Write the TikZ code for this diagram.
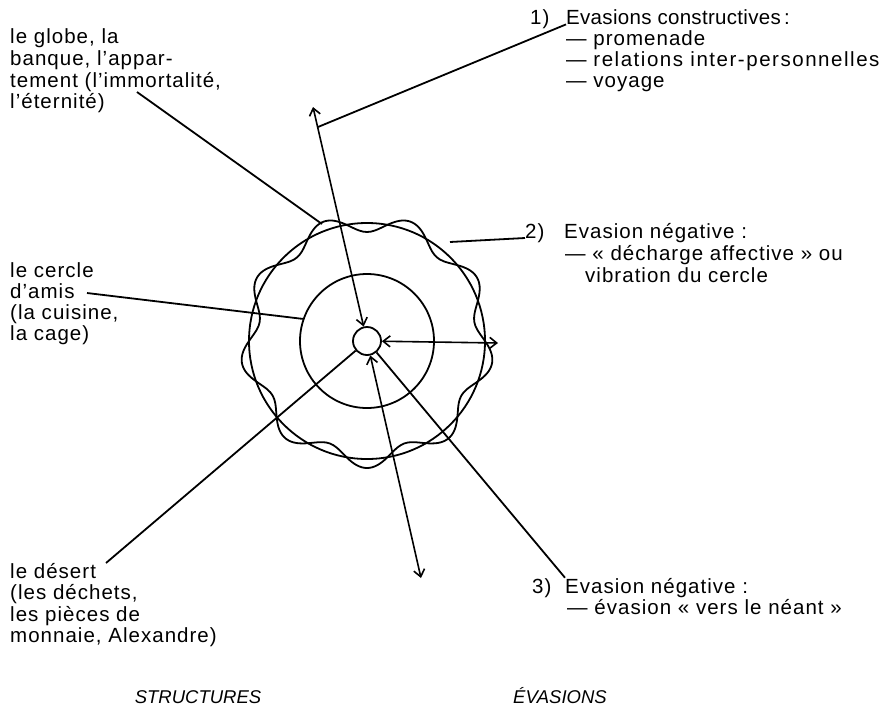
\documentclass[tikz,border=0pt]{standalone}
\usepackage{fontspec}
\setmainfont{Liberation Sans}[LetterSpace=5]
\usetikzlibrary{arrows.meta,calc}
\begin{document}
\begin{tikzpicture}[x=1pt,y=-1pt,
  txt/.style={anchor=base west,inner sep=0pt,font=\fontsize{20.5}{22}\selectfont},
  head/.style={anchor=base,inner sep=0pt,font=\fontsize{18.5}{20}\selectfont\itshape\addfontfeatures{LetterSpace=0}},
  ln/.style={line width=1.8pt},
  ring/.style={circle,draw,line width=1.8pt,inner sep=0pt},
  arr/.style={line width=1.6pt,{Straight Barb[length=7pt,width=11pt]}-{Straight Barb[length=7pt,width=11pt]}}]
\useasboundingbox (0,0) rectangle (884,724);

% circles
\node[ring,minimum size=28pt] (c0) at (367,341) {};
\node[ring,minimum size=134pt] (c1) at (367,341) {};
\node[ring,minimum size=236pt] (c2) at (367,341) {};
\draw[ln,shift={(367,341)}] plot[domain=0:358,samples=180,smooth cycle] (\x:{118+9*sin(9*\x)});

% left texts
\node[txt] (g1) at (10,43) {le globe, la};
\node[txt] (g2) at (10,65) {banque, l'appar-};
\node[txt] (g3) at (10,87) {tement (l'immortalité,};
\node[txt] (g4) at (10,108) {l'éternité)};

\node[txt] (a1) at (10,277) {le cercle};
\node[txt] (a2) at (10,298) {d'amis};
\node[txt] (a3) at (10,319) {(la cuisine,};
\node[txt] (a4) at (10,340) {la cage)};

\node[txt] (d1) at (10,578) {le désert};
\node[txt] (d2) at (10,599) {(les déchets,};
\node[txt] (d3) at (10,621) {les pièces de};
\node[txt] (d4) at (10,642) {monnaie, Alexandre)};

% right texts
\node[txt] (n1) at (530,24) {1)};
\node[txt,font=\fontsize{20.5}{22}\selectfont\addfontfeatures{LetterSpace=1.5}] (t1) at (566,24) {Evasions constructives\,:};
\node[txt] (t1a) at (566,45) {— promenade};
\node[txt] (t1b) at (566,66) {— {\addfontfeatures{LetterSpace=7.5}relations inter-personnelles}};
\node[txt] (t1c) at (566,87) {— voyage};

\node[txt] (n2) at (525,238) {2)};
\node[txt] (t2) at (564,238) {Evasion négative :};
\node[txt] (t2a) at (565,260) {— «~décharge affective~» ou};
\node[txt] (t2b) at (585,282) {vibration du cercle};

\node[txt] (n3) at (532,593) {3)};
\node[txt] (t3) at (565,593) {Evasion négative :};
\node[txt] (t3a) at (567,614) {— évasion «~vers le néant~»};

\node[head] (h1) at (198,703) {STRUCTURES};
\node[head] (h2) at (560,703) {ÉVASIONS};

% free ends
\coordinate (ta) at (313,107);
\coordinate (j1) at (318,127);
\coordinate (ra) at (498,343);
\coordinate (ba) at (421,578);
\coordinate (gs) at (137,92);
\coordinate (ge) at (322,224);
\coordinate (as) at (87,293);
\coordinate (ds) at (106,563);
\coordinate (w2) at (450,242);

% arrows
\draw[arr] (ta) -- (c0);
\draw[arr] (ra) -- (c0);
\draw[arr] (ba) -- (c0);

% connectors
\draw[ln] (t1.south west) -- (j1);
\draw[ln] (gs) -- (ge);
\draw[ln] (as) -- (c1.161);
\draw[ln] (ds) -- (c0);
\draw[ln] (w2) -- (n2.base west);
\draw[ln] (t3.north west) -- (c0);
\end{tikzpicture}
\end{document}
